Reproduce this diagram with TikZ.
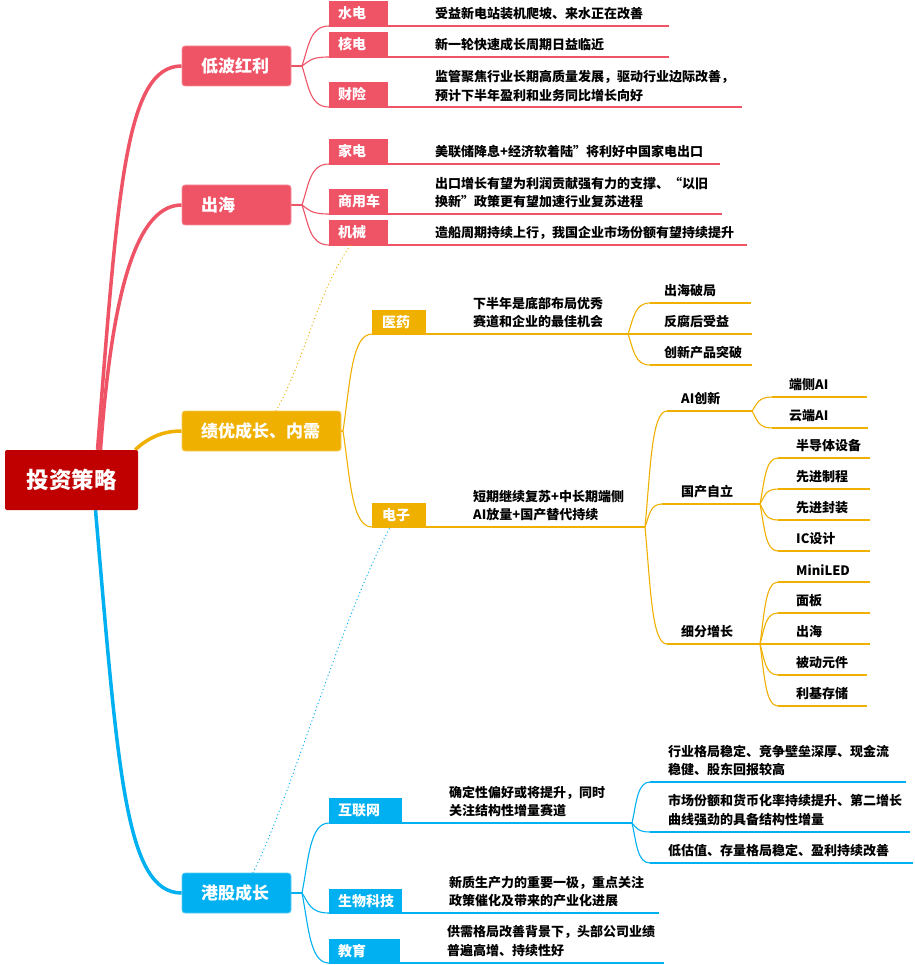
\documentclass[tikz,border=0pt]{standalone}
\usepackage{fontspec}
\setmainfont{Noto Sans CJK SC}
\usetikzlibrary{calc}
\pgfdeclarelayer{bgbg}
\pgfdeclarelayer{bg}
\pgfsetlayers{bgbg,bg,main}
\definecolor{cpink}{HTML}{EF5366}
\definecolor{corange}{HTML}{F0B000}
\definecolor{cblue}{HTML}{00B0F0}
\definecolor{croot}{HTML}{C00000}
\newcommand\conn[3]{\draw[#1] let \p1=(#2), \p2=(#3) in (\p1) .. controls ({\x1+0.25*(\x2-\x1)},{\y1+0.5*(\y2-\y1)}) and ({\x1+0.3*(\x2-\x1)},{\y2}) .. (\p2);}
\tikzset{
  rootbox/.style={fill=croot, text=white, font=\fontsize{22.5}{27}\selectfont\bfseries, minimum width=133pt, minimum height=60pt, inner sep=0pt, rounded corners=2pt},
  lone/.style={fill=#1, draw=#1!65!white, line width=0.8pt, text=white, font=\fontsize{17}{20}\selectfont\bfseries, minimum height=40pt, inner sep=0pt, rounded corners=3pt},
  tagbox/.style={fill=#1, text=white, font=\fontsize{14}{16}\selectfont\bfseries, minimum height=25pt, inner sep=0pt, anchor=south west},
  desc/.style={font=\fontsize{13}{18.7}\selectfont\bfseries, align=left, inner sep=0pt, anchor=west},
  rl/.style={draw=#1, line width=3.5pt},
  ln/.style={draw=#1, line width=1.1pt},
  dots/.style={draw=#1, line width=1.3pt, dash pattern=on 0.1pt off 3.6pt, line cap=round},
}
\begin{document}
\begin{tikzpicture}[x=1pt,y=-1pt]
\useasboundingbox (0,0) rectangle (914,965);
\begin{pgfonlayer}{bgbg}
\fill[white] (0,0) rectangle (914,965);
\end{pgfonlayer}

% root and level 1
\node[rootbox] (r) at (71.5,480) {投资策略};
\node[lone=cpink, minimum width=109pt] (lb) at (236.5,66) {\makebox[71pt][l]{低波红利}};
\node[lone=cpink, minimum width=109pt] (ch) at (236.5,205) {\makebox[71pt][l]{出海}};
\node[lone=corange, minimum width=159pt] (jy) at (261.5,431) {\makebox[121pt][l]{绩优成长、内需}};
\node[lone=cblue, minimum width=109pt] (gg) at (236.5,893) {\makebox[71pt][l]{港股成长}};

% pink tags
\node[tagbox=cpink, minimum width=59pt] (a1) at (329,26) {\makebox[41pt][l]{水电}};
\node[tagbox=cpink, minimum width=59pt] (a2) at (329,57) {\makebox[41pt][l]{核电}};
\node[tagbox=cpink, minimum width=59pt] (a3) at (329,107) {\makebox[41pt][l]{财险}};
\node[tagbox=cpink, minimum width=59pt] (a4) at (329,164) {\makebox[41pt][l]{家电}};
\node[tagbox=cpink, minimum width=59pt] (a5) at (329,214) {\makebox[41pt][l]{商用车}};
\node[tagbox=cpink, minimum width=59pt] (a6) at (329,245) {\makebox[41pt][l]{机械}};
\node[desc] (a1d) at (435,14) {受益新电站装机爬坡、来水正在改善};
\node[desc] (a2d) at (435,45) {新一轮快速成长周期日益临近};
\node[desc] (a3d) at (435,86) {监管聚焦行业长期高质量发展，驱动行业边际改善，\\预计下半年盈利和业务同比增长向好};
\node[desc] (a4d) at (435,152) {美联储降息+经济软着陆”将利好中国家电出口};
\node[desc] (a5d) at (435,192.5) {出口增长有望为利润贡献强有力的支撑、“以旧\\换新”政策更有望加速行业复苏进程};
\node[desc] (a6d) at (435,233) {造船周期持续上行，我国企业市场份额有望持续提升};

% orange tags and items
\node[tagbox=corange, minimum width=54pt, minimum height=24pt] (b1) at (372,334) {\makebox[34pt][l]{医药}};
\node[tagbox=corange, minimum width=54pt, minimum height=24pt] (b2) at (372,527) {\makebox[34pt][l]{电子}};
\node[desc] (b1d) at (473,312.5) {下半年是底部布局优秀\\赛道和企业的最佳机会};
\node[desc] (b2d) at (473,505.5) {短期继续复苏+中长期端侧\\AI放量+国产替代持续};
\node[desc] (c1) at (664,291) {出海破局};
\node[desc] (c2) at (664,322) {反腐后受益};
\node[desc] (c3) at (664,353) {创新产品突破};
\node[desc] (d1) at (681,399) {AI创新};
\node[desc] (d2) at (681,492) {国产自立};
\node[desc] (d3) at (681,632) {细分增长};
\node[desc] (e1) at (789,385) {端侧AI};
\node[desc] (e2) at (789,416) {云端AI};
\node[desc] (e3) at (796,446) {半导体设备};
\node[desc] (e4) at (796,477) {先进制程};
\node[desc] (e5) at (796,508) {先进封装};
\node[desc] (e6) at (796,539) {IC设计};
\node[desc] (e7) at (796,570) {MiniLED};
\node[desc] (e8) at (796,601) {面板};
\node[desc] (e9) at (796,632) {出海};
\node[desc] (e10) at (796,663) {被动元件};
\node[desc] (e11) at (796,694) {利基存储};

% blue tags and items
\node[tagbox=cblue, minimum width=73pt] (g1) at (329,823) {\makebox[55pt][l]{互联网}};
\node[tagbox=cblue, minimum width=73pt, minimum height=24pt] (g2) at (329,913) {\makebox[55pt][l]{生物科技}};
\node[tagbox=cblue, minimum width=71pt, minimum height=24pt] (g3) at (329,963) {\makebox[53pt][l]{教育}};
\node[desc] (g1d) at (449,801.5) {确定性偏好或将提升，同时\\关注结构性增量赛道};
\node[desc] (g2d) at (449,891.5) {新质生产力的重要一极，重点关注\\政策催化及带来的产业化进展};
\node[desc] (g3d) at (447,941) {供需格局改善背景下，头部公司业绩\\普遍高增、持续性好};
\node[desc] (h1) at (668,760.5) {行业格局稳定、竞争壁垒深厚、现金流\\稳健、股东回报较高};
\node[desc] (h2) at (668,810) {市场份额和货币化率持续提升、第二增长\\曲线强劲的具备结构性增量};
\node[desc] (h3) at (668,851) {低估值、存量格局稳定、盈利持续改善};

% coordinates
\coordinate (fa) at (302,66);
\coordinate (fb) at (302,205);
\coordinate (fc) at (343,431);
\coordinate (fg) at (302,893);
\coordinate (fb1) at (628,334);
\coordinate (fb2) at (645,527);
\coordinate (c1s) at (650,303);
\coordinate (c3s) at (650,365);
\coordinate (d1s) at (667,411);
\coordinate (d2s) at (662,504);
\coordinate (d3s) at (667,644);
\coordinate (fd1) at (752,411);
\coordinate (fd2) at (760,504);
\coordinate (fd3) at (760,644);
\coordinate (e1s) at (772,397);
\coordinate (e2s) at (772,428);
\coordinate (e3s) at (778,458);
\coordinate (e4s) at (778,489);
\coordinate (e5s) at (778,520);
\coordinate (e6s) at (778,551);
\coordinate (e7s) at (778,582);
\coordinate (e8s) at (778,613);
\coordinate (e10s) at (778,675);
\coordinate (e11s) at (778,706);
\coordinate (fg1) at (632,823);
\coordinate (h1s) at (650,782);
\coordinate (h2s) at (650,832);
\coordinate (h3s) at (650,863);

\begin{pgfonlayer}{bg}
% root connectors
\draw[rl=cpink] ([xshift=26pt]r.north) .. controls (118,190) and (125,66) .. (lb.west);
\draw[rl=cpink] ([xshift=29pt]r.north) .. controls (110,320) and (130,205) .. (ch.west);
\draw[rl=corange] ([xshift=-3pt]r.north east) .. controls (150,436) and (165,431) .. (jy.west);
\draw[rl=cblue] ([xshift=24pt]r.south) .. controls (118,770) and (125,893) .. (gg.west);

% pink branches
\draw[ln=cpink] (lb.east) -- (fa);
\conn{ln=cpink}{fa}{a1.south west}
\conn{ln=cpink}{fa}{a2.south west}
\conn{ln=cpink}{fa}{a3.south west}
\draw[ln=cpink] (ch.east) -- (fb);
\conn{ln=cpink}{fb}{a4.south west}
\conn{ln=cpink}{fb}{a5.south west}
\conn{ln=cpink}{fb}{a6.south west}
\draw[ln=cpink] (a1.south west) -- ++(340,0);
\draw[ln=cpink] (a2.south west) -- ++(340,0);
\draw[ln=cpink] (a3.south west) -- ++(413,0);
\draw[ln=cpink] (a4.south west) -- ++(391,0);
\draw[ln=cpink] (a5.south west) -- ++(393,0);
\draw[ln=cpink] (a6.south west) -- ++(418,0);

% orange branches
\draw[ln=corange] (jy.east) -- (fc);
\conn{ln=corange}{fc}{b1.south west}
\conn{ln=corange}{fc}{b2.south west}
\draw[ln=corange] (b1.south west) -- (fb1);
\draw[ln=corange] (b2.south west) -- (fb2);
\conn{ln=corange}{fb1}{c1s}
\conn{ln=corange}{fb1}{c3s}
\draw[ln=corange] (c1s) -- ++(101,0);
\draw[ln=corange] (fb1) -- ++(124,0);
\draw[ln=corange] (c3s) -- ++(102,0);
\conn{ln=corange}{fb2}{d1s}
\conn{ln=corange}{fb2}{d2s}
\conn{ln=corange}{fb2}{d3s}
\draw[ln=corange] (d1s) -- (fd1);
\draw[ln=corange] (d2s) -- (fd2);
\draw[ln=corange] (d3s) -- (fd3);
\conn{ln=corange}{fd1}{e1s}
\conn{ln=corange}{fd1}{e2s}
\draw[ln=corange] (e1s) -- ++(95,0);
\draw[ln=corange] (e2s) -- ++(96,0);
\conn{ln=corange}{fd2}{e3s}
\conn{ln=corange}{fd2}{e4s}
\conn{ln=corange}{fd2}{e5s}
\conn{ln=corange}{fd2}{e6s}
\draw[ln=corange] (e3s) -- ++(92,0);
\draw[ln=corange] (e4s) -- ++(92,0);
\draw[ln=corange] (e5s) -- ++(92,0);
\draw[ln=corange] (e6s) -- ++(92,0);
\conn{ln=corange}{fd3}{e7s}
\conn{ln=corange}{fd3}{e8s}
\conn{ln=corange}{fd3}{e10s}
\conn{ln=corange}{fd3}{e11s}
\draw[ln=corange] (e7s) -- ++(92,0);
\draw[ln=corange] (e8s) -- ++(92,0);
\draw[ln=corange] (fd3) -- ++(110,0);
\draw[ln=corange] (e10s) -- ++(89,0);
\draw[ln=corange] (e11s) -- ++(89,0);

% blue branches
\draw[ln=cblue] (gg.east) -- (fg);
\conn{ln=cblue}{fg}{g1.south west}
\conn{ln=cblue}{fg}{g2.south west}
\conn{ln=cblue}{fg}{g3.south west}
\draw[ln=cblue] (g1.south west) -- (fg1);
\draw[ln=cblue] (g2.south west) -- ++(330,0);
\draw[ln=cblue] (g3.south west) -- ++(335,0);
\conn{ln=cblue}{fg1}{h1s}
\conn{ln=cblue}{fg1}{h2s}
\conn{ln=cblue}{fg1}{h3s}
\draw[ln=cblue] (h1s) -- ++(256,0);
\draw[ln=cblue] (h2s) -- ++(260,0);
\draw[ln=cblue] (h3s) -- ++(263,0);

% dotted relation lines
\draw[dots=corange] ([xshift=14.5pt]jy.north) .. controls (305,360) and (318,290) .. ([xshift=-8pt]a6.south);
\draw[dots=cblue] ([xshift=16.5pt]gg.north) .. controls (290,800) and (340,620) .. ([xshift=-9pt]b2.south);
\end{pgfonlayer}
\end{tikzpicture}
\end{document}
